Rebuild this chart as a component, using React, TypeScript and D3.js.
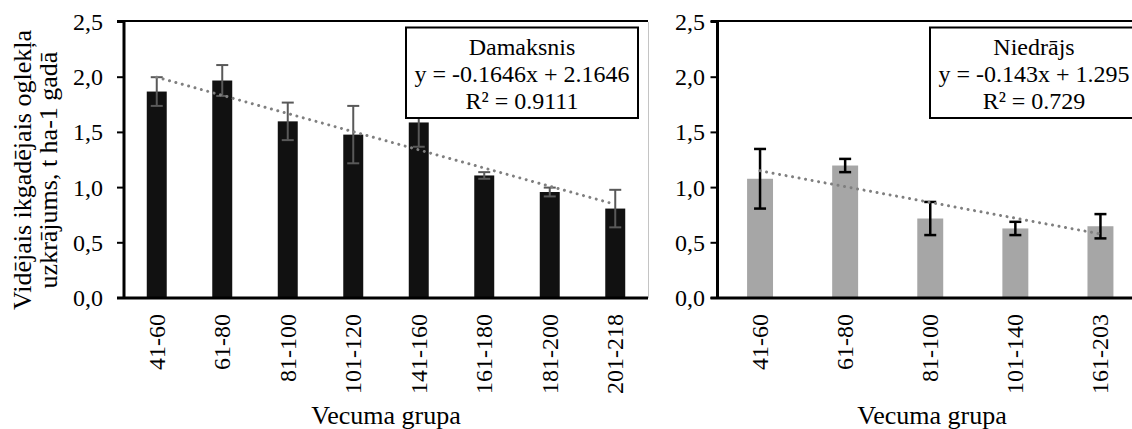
import React from "react";
import * as d3 from "d3";

const leftCategories = ["41-60", "61-80", "81-100", "101-120", "141-160", "161-180", "181-200", "201-218"];
const leftValues = [1.87, 1.97, 1.6, 1.48, 1.59, 1.11, 0.96, 0.81];
const leftErrors = [0.13, 0.14, 0.17, 0.26, 0.22, 0.03, 0.04, 0.17];
const leftTrend = { slope: -0.1646, intercept: 2.1646 };
const leftLegend = ["Damaksnis", "y = -0.1646x + 2.1646", "R² = 0.9111"];

const rightCategories = ["41-60", "61-80", "81-100", "101-140", "161-203"];
const rightValues = [1.08, 1.2, 0.72, 0.63, 0.65];
const rightErrors = [0.27, 0.06, 0.15, 0.06, 0.11];
const rightTrend = { slope: -0.143, intercept: 1.295 };
const rightLegend = ["Niedrājs", "y = -0.143x + 1.295", "R² = 0.729"];

const yTicks = [0, 0.5, 1, 1.5, 2, 2.5];
const xTitle = "Vecuma grupa";
const yTitle = ["Vidējais ikgadējais oglekļa", "uzkrājums, t ha-1 gadā"];

const FONT = "Liberation Serif";
const fmt = (v: number) => d3.format(".1f")(v).replace(".", ",");

type PanelProps = {
  x0: number;
  x1: number;
  categories: string[];
  values: number[];
  errors: number[];
  trend: { slope: number; intercept: number };
  legend: string[];
  legendBox: [number, number];
  barColor: string;
  errColor: string;
  errWidth: number;
  labelRight: number;
  tickLen: number;
  titleX: number;
  rightBorder: boolean;
};

const Y_TOP = 22;
const Y_BOT = 298;

function Panel(p: PanelProps) {
  const y = d3.scaleLinear().domain([0, 2.5]).range([Y_BOT, Y_TOP]);
  const x = d3.scaleBand<string>().domain(p.categories).range([p.x0, p.x1]).padding(0);
  const bw = x.bandwidth() * 0.305;
  const cx = (c: string) => (x(c) as number) + x.bandwidth() / 2;
  const trendPath = d3
    .line<number>()
    .x((i) => cx(p.categories[i]))
    .y((i) => y(p.trend.slope * (i + 1) + p.trend.intercept))([0, p.categories.length - 1]);
  const [lx0, lx1] = p.legendBox;
  const lcx = (lx0 + lx1) / 2;
  return (
    <g>
      {p.categories.map((c, i) => (
        <rect
          key={"b" + c}
          x={cx(c) - bw / 2}
          y={y(p.values[i])}
          width={bw}
          height={y(0) - y(p.values[i])}
          fill={p.barColor}
        />
      ))}
      {p.rightBorder && (
        <line x1={p.x1 + 0.5} x2={p.x1 + 0.5} y1={Y_TOP} y2={Y_BOT} stroke="#c4c4c4" strokeWidth={1} />
      )}
      <line x1={p.x0 - p.tickLen} x2={p.x1} y1={Y_TOP - 1} y2={Y_TOP - 1} stroke="#000" strokeWidth={2} />
      {p.categories.map((c, i) => {
        const hi = y(p.values[i] + p.errors[i]);
        const lo = y(p.values[i] - p.errors[i]);
        const xc = cx(c);
        return (
          <g key={"e" + c} stroke={p.errColor} strokeWidth={p.errWidth}>
            <line x1={xc} x2={xc} y1={hi} y2={lo} />
            <line x1={xc - 6} x2={xc + 6} y1={hi} y2={hi} />
            <line x1={xc - 6} x2={xc + 6} y1={lo} y2={lo} />
          </g>
        );
      })}
      <path
        d={trendPath || ""}
        fill="none"
        stroke="#7f7f7f"
        strokeWidth={3}
        strokeLinecap="round"
        strokeDasharray="0.01 6.6"
      />
      <line x1={p.x0 - p.tickLen} x2={p.x1} y1={Y_BOT} y2={Y_BOT} stroke="#000" strokeWidth={3} />
      <line x1={p.x0} x2={p.x0} y1={Y_TOP - 2} y2={Y_BOT} stroke="#000" strokeWidth={3} />
      {yTicks.map((t) => (
        <g key={"t" + t}>
          <line x1={p.x0 - p.tickLen} x2={p.x0} y1={y(t)} y2={y(t)} stroke="#000" strokeWidth={2} />
          <text x={p.labelRight} y={y(t) + 8} textAnchor="end" fontFamily={FONT} fontSize={24}>
            {fmt(t)}
          </text>
        </g>
      ))}
      {p.categories.map((c) => (
        <text
          key={"x" + c}
          transform={`translate(${cx(c) + 8},314) rotate(-90)`}
          textAnchor="end"
          fontFamily={FONT}
          fontSize={24}
        >
          {c}
        </text>
      ))}
      <text x={p.titleX} y={424} textAnchor="middle" fontFamily={FONT} fontSize={26}>
        {xTitle}
      </text>
      <rect x={lx0} y={27.5} width={lx1 - lx0} height={90.5} fill="#fff" stroke="#000" strokeWidth={2} />
      {p.legend.map((s, i) => (
        <text key={"l" + i} x={lcx} y={54.5 + i * 27.3} textAnchor="middle" fontFamily={FONT} fontSize={24}>
          {s}
        </text>
      ))}
    </g>
  );
}

export default function App() {
  return (
    <div style={{ position: "absolute", left: 0, top: 0, fontFamily: '"Liberation Serif"' }}>
      <svg width={1132} height={429} fontFamily={FONT} style={{ display: "block", fontFamily: '"Liberation Serif"' }}>
        <style>{`text { font-family: "Liberation Serif", "Tinos"; }`}</style>
        <rect x={0} y={0} width={1132} height={429} fill="#fff" />
        <Panel
          x0={124}
          x1={648}
          categories={leftCategories}
          values={leftValues}
          errors={leftErrors}
          trend={leftTrend}
          legend={leftLegend}
          legendBox={[406, 638]}
          barColor="#111111"
          errColor="#595959"
          errWidth={2}
          labelRight={103}
          tickLen={7}
          titleX={386}
          rightBorder={true}
        />
        <Panel
          x0={717.5}
          x1={1143}
          categories={rightCategories}
          values={rightValues}
          errors={rightErrors}
          trend={rightTrend}
          legend={rightLegend}
          legendBox={[930, 1138]}
          barColor="#a6a6a6"
          errColor="#000000"
          errWidth={2.5}
          labelRight={705}
          tickLen={7}
          titleX={932}
          rightBorder={false}
        />
        {yTitle.map((s, i) => (
          <text
            key={"yt" + i}
            transform={`translate(${31 + i * 26},170) rotate(-90)`}
            textAnchor="middle"
            fontFamily={FONT}
            fontSize={26}
          >
            {s}
          </text>
        ))}
      </svg>
    </div>
  );
}
